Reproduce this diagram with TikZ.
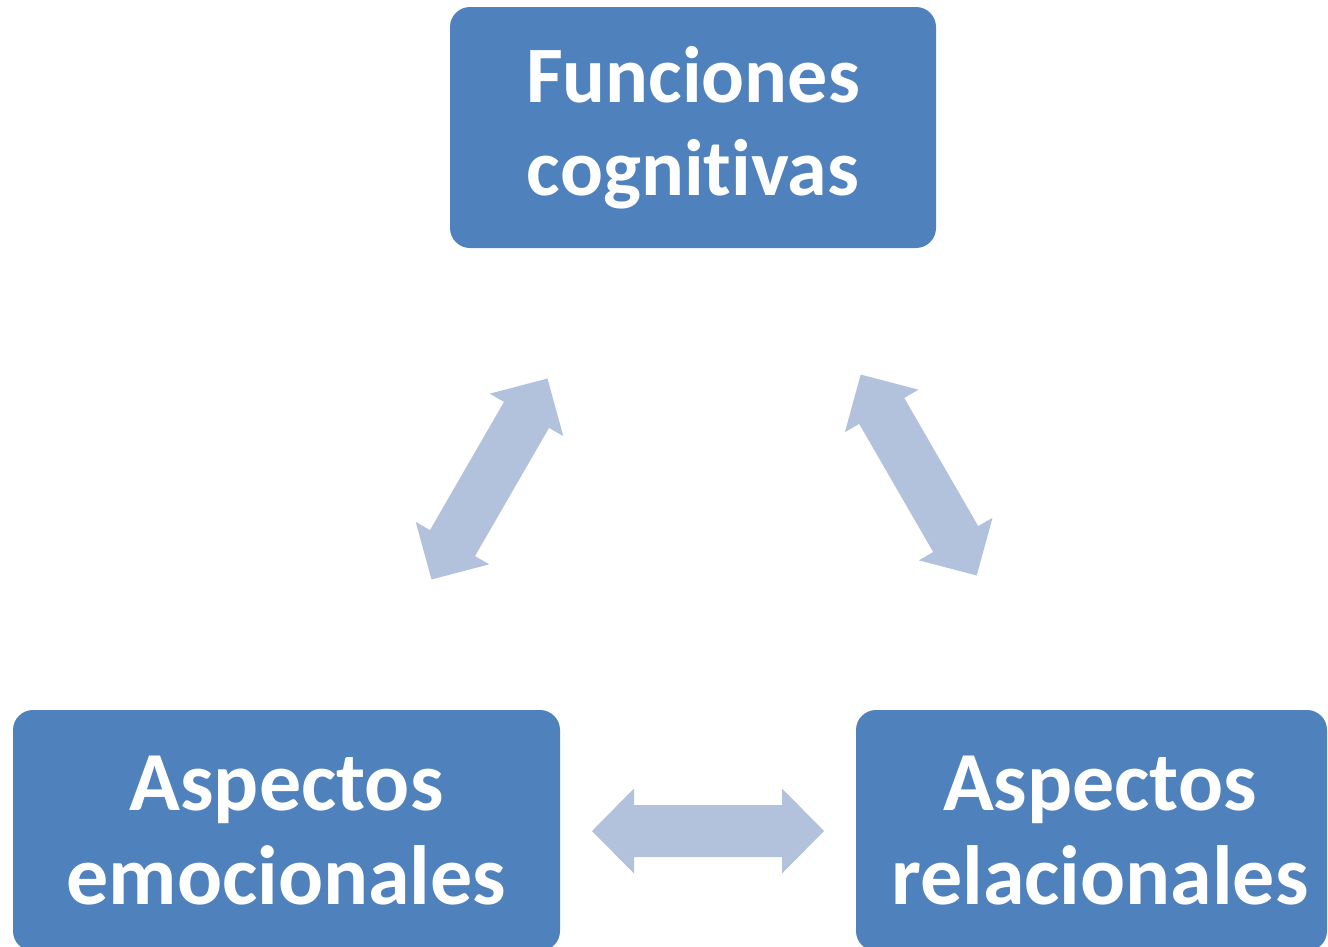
\documentclass[tikz,border=0pt]{standalone}
\usepackage{fontspec}
\setmainfont{Carlito}[Ligatures=NoCommon]
\definecolor{boxblue}{RGB}{79,129,189}
\definecolor{arrowblue}{RGB}{179,194,220}
\tikzset{
  block/.style={fill=boxblue, rounded corners=20pt, inner sep=0pt, minimum height=241pt},
  blocktext/.style={text=white, align=center, inner sep=0pt},
}
\begin{document}
\begin{tikzpicture}[x=1pt,y=-1pt]
  \useasboundingbox (0,0) rectangle (1328,946);
  \pgfmathsetmacro{\halflen}{116}
  \pgfmathsetmacro{\headlen}{42}
  \pgfmathsetmacro{\headwidth}{42.5}
  \pgfmathsetmacro{\shaftwidth}{26}
  \pgfmathsetmacro{\neck}{\halflen-\headlen}
  % the three boxes
  \node[block, minimum width=486pt] (funciones) at (693,127.5) {};
  \node[block, minimum width=547pt] (emocionales) at (286.5,830.5) {};
  \node[block, minimum width=471pt] (relacionales) at (1091.5,830.5) {};
  \node[blocktext, font=\bfseries\fontsize{80}{93}\selectfont] (funciones-text) at (funciones) {Funciones\\cognitivas};
  \node[blocktext, font=\bfseries\fontsize{84}{94}\selectfont] (emocionales-text) at (emocionales) {Aspectos\\emocionales};
  \node[blocktext, font=\bfseries\fontsize{84}{94}\selectfont] (relacionales-text) at ([xshift=8.5pt]relacionales.center) {Aspectos\\relacionales};
  % double block arrows between them
  \foreach \cx/\cy/\angle in {489.5/479/60, 918.7/475/-60, 708/831/0} {%
    \begin{scope}[shift={(\cx,\cy)}, rotate=\angle]
      \fill[arrowblue] (-\halflen,0) -- (-\neck,\headwidth) -- (-\neck,\shaftwidth)
        -- (\neck,\shaftwidth) -- (\neck,\headwidth) -- (\halflen,0)
        -- (\neck,-\headwidth) -- (\neck,-\shaftwidth) -- (-\neck,-\shaftwidth)
        -- (-\neck,-\headwidth) -- cycle;
    \end{scope}
  }
\end{tikzpicture}
\end{document}
